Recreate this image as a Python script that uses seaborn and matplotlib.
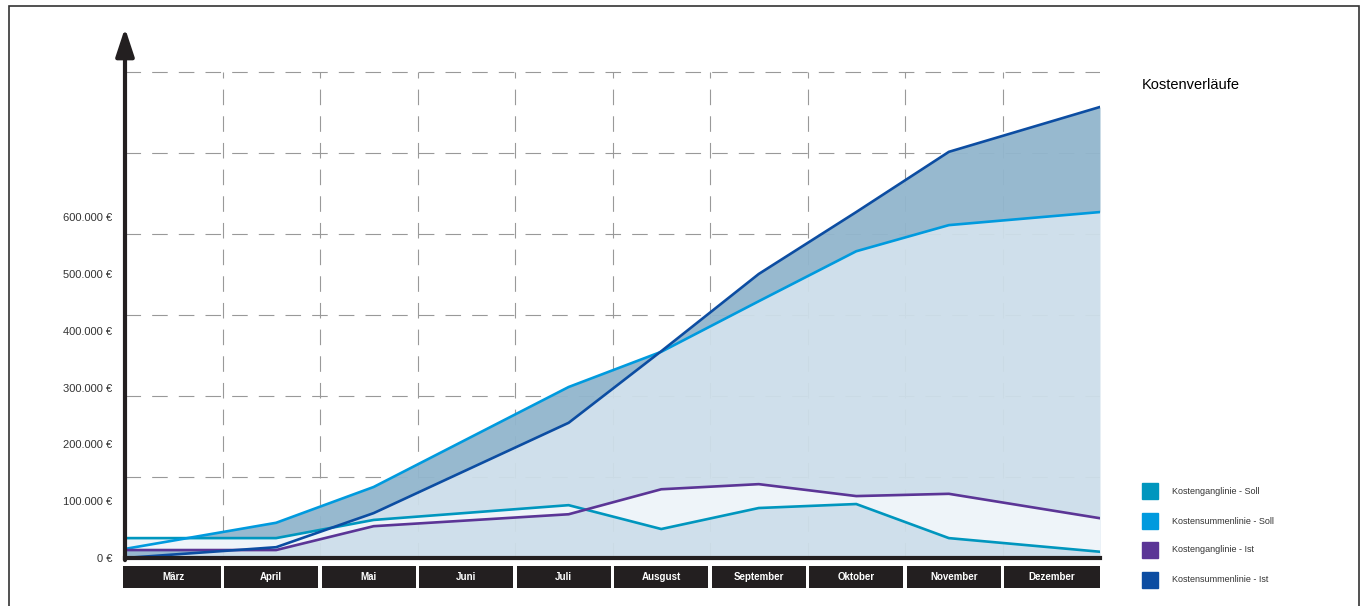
import numpy as np
import pandas as pd
import matplotlib
matplotlib.use('Agg')
import matplotlib.pyplot as plt
import seaborn as sns
from matplotlib.patches import Rectangle

# Monate (Beschriftung wie im Original)
months = ['März', 'April', 'Mai', 'Juni', 'Juli', 'Ausgust', 'September', 'Oktober', 'November', 'Dezember']

# Stützstellen auf der Monatsachse (0 = Anfang März, 10 = Ende Dezember)
x_pos = [0, 1.55, 2.55, 4.55, 5.5, 6.5, 7.5, 8.45, 10]

# Werte in Euro
soll_gang = [35000, 35000, 67000, 93000, 51000, 88000, 95000, 35000, 11000]
soll_sum = [16000, 62000, 125000, 301000, 363000, 452000, 540000, 586000, 609000]
ist_gang = [14000, 14000, 56000, 77000, 121000, 130000, 109000, 113000, 70000]
ist_sum = [0, 19000, 79000, 238000, 364000, 500000, 609000, 715000, 794000]

series_names = ['Kostenganglinie - Soll', 'Kostensummenlinie - Soll', 'Kostenganglinie - Ist', 'Kostensummenlinie - Ist']
series_colors = ['#0096BE', '#009ADE', '#5B3596', '#0C4DA2']

y_ticks = [0, 100000, 200000, 300000, 400000, 500000, 600000]
y_labels = ['0 €', '100.000 €', '200.000 €', '300.000 €', '400.000 €', '500.000 €', '600.000 €']
grid_step = 142600

sns.set_style('white')
plt.rcParams['font.family'] = ['Liberation Sans', 'DejaVu Sans']

W, H = 1366, 606
fig = plt.figure(figsize=(W / 100, H / 100), dpi=100)
ax = fig.add_axes([125 / W, (H - 558) / H, 975 / W, 530 / H])
ax.set_xlim(0, 10)
ax.set_ylim(0, 933000)

# Gitter
ink = '#231F20'
dash = (0, (14, 10))
for k in range(1, 7):
    ax.plot([0, 10], [k * grid_step, k * grid_step], color='#999999', lw=0.8, ls=dash, zorder=1)
for i in range(1, 10):
    ax.plot([i, i], [0, 6 * grid_step], color='#999999', lw=0.8, ls=dash, zorder=1)

# Flächen (leicht transparent, Gitter scheint schwach durch)
x = np.array(x_pos)
s_sum = np.array(soll_sum)
i_sum = np.array(ist_sum)
ax.fill_between(x, 0, np.minimum(s_sum, i_sum), color='#CDDEEA', alpha=0.95, lw=0, zorder=2)
ax.fill_between(x, s_sum, i_sum, color='#92B6CD', alpha=0.95, lw=0, zorder=2, interpolate=True)
ax.fill_between(x, soll_gang, ist_gang, color='#EEF4F9', lw=0, zorder=3, interpolate=True)

df = pd.DataFrame({
    'x': x_pos * 4,
    'wert': soll_gang + soll_sum + ist_gang + ist_sum,
    'linie': sum([[n] * len(x_pos) for n in series_names], []),
})
sns.lineplot(data=df, x='x', y='wert', hue='linie', hue_order=series_names,
             palette=series_colors, lw=1.9, legend=False, ax=ax, zorder=4, sort=False)

# Achsen
for s in ['top', 'right', 'left']:
    ax.spines[s].set_visible(False)
ax.spines['bottom'].set_linewidth(3)
ax.spines['bottom'].set_color(ink)
ax.spines['bottom'].set_zorder(6)
ax.annotate('', xy=(0, 1), xycoords='axes fraction', xytext=(0, -0.004), textcoords='axes fraction',
            arrowprops=dict(arrowstyle='-|>,head_length=0.85,head_width=0.28', lw=3, color=ink,
                            shrinkA=0, shrinkB=0, mutation_scale=20), zorder=7)

ax.set_xticks([])
ax.set_yticks(y_ticks)
ax.set_yticklabels(y_labels, fontsize=8, color='#333333')
ax.tick_params(axis='y', length=0, pad=9)
ax.set_xlabel('')
ax.set_ylabel('')

# Monatsfelder
tr = ax.get_xaxis_transform()
gap = 0.018
for i, m in enumerate(months):
    x0 = i + gap if i > 0 else -0.02
    x1 = i + 1 - gap if i < 9 else 10
    ax.add_patch(Rectangle((x0, -0.0566), x1 - x0, 0.0415, transform=tr, facecolor=ink,
                           edgecolor='none', clip_on=False, zorder=5))
    ax.text(i + 0.5, -0.036, m, transform=tr, ha='center', va='center', color='white',
            fontsize=7, fontweight='bold', zorder=8)

# Titel und Legende
fig.text(1142 / W, 1 - 85 / H, 'Kostenverläufe', fontsize=10.5, color='black', va='center', ha='left')
for name, col, yc in zip(series_names, series_colors, [491, 521, 550, 580]):
    fig.patches.append(Rectangle((1142 / W, 1 - (yc + 8) / H), 16 / W, 16 / H,
                                 transform=fig.transFigure, color=col))
    fig.text(1172 / W, 1 - yc / H, name, fontsize=6.5, color='#333333', va='center', ha='left')

# Rahmen
fig.patches.append(Rectangle((9 / W, -0.05), 1350 / W, 1.05 - 6 / H, transform=fig.transFigure,
                             fill=False, edgecolor='#333333', lw=1.2))

fig.savefig('out.png', dpi=100)
